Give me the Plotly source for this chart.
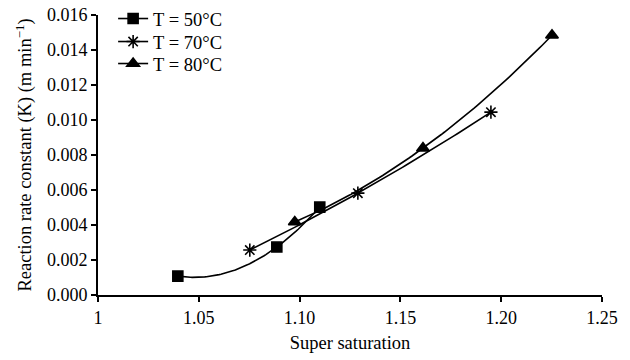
import numpy as np
import plotly.graph_objects as go

# Data
x_50 = [1.0396, 1.0887, 1.1100]
y_50 = [0.00108, 0.00274, 0.00502]
x_70 = [1.0753, 1.1289, 1.1949]
y_70 = [0.00257, 0.00582, 0.01045]
x_80 = [1.0976, 1.1612, 1.2252]
y_80 = [0.00417, 0.00839, 0.01484]

series = [
    ("T = 50°C", x_50, y_50, "square", 10, "legend"),
    ("T = 70°C", x_70, y_70, "asterisk-open", 11, "legend2"),
    ("T = 80°C", x_80, y_80, "triangle-up", 11, "legend3"),
]

x_ticks = [1, 1.05, 1.10, 1.15, 1.20, 1.25]
x_tick_text = ["1", "1.05", "1.10", "1.15", "1.20", "1.25"]
y_ticks = [0, 0.002, 0.004, 0.006, 0.008, 0.010, 0.012, 0.014, 0.016]
y_tick_text = ["0.000", "0.002", "0.004", "0.006", "0.008", "0.010", "0.012", "0.014", "0.016"]

FONT = "Liberation Serif"
LW = 1.6
fig = go.Figure()
for name, xs, ys, sym, ms, lg in series:
    coef = np.polyfit(xs, ys, 2)
    xf = np.linspace(min(xs), max(xs), 80)
    yf = np.polyval(coef, xf)
    marker = dict(symbol=sym, size=ms, color="black", line=dict(color="black", width=1.6))
    # fitted curve
    fig.add_trace(go.Scatter(x=xf, y=yf, mode="lines", line=dict(color="black", width=LW),
                             showlegend=False, hoverinfo="skip"))
    # data markers
    fig.add_trace(go.Scatter(x=xs, y=ys, mode="markers", marker=marker, showlegend=False))
    # legend entry (line + marker)
    fig.add_trace(go.Scatter(x=[None], y=[None], mode="lines+markers", name=name, legend=lg,
                             marker=marker, line=dict(color="black", width=LW)))

leg_common = dict(x=0.03, xanchor="left", yanchor="middle", bgcolor="rgba(0,0,0,0)",
                  font=dict(family=FONT, size=18.5), borderwidth=0)
# item centres in paper coordinates (plot area spans px 15..295)
leg_y = [(295 - 19) / 280, (295 - 42) / 280, (295 - 64) / 280]

fig.update_layout(
    width=630, height=360,
    margin=dict(l=98, r=28, t=15, b=65, autoexpand=False),
    paper_bgcolor="white", plot_bgcolor="white",
    font=dict(family=FONT, size=18, color="black"),
    showlegend=True,
    legend=dict(y=leg_y[0], **leg_common),
    legend2=dict(y=leg_y[1], **leg_common),
    legend3=dict(y=leg_y[2], **leg_common),
    xaxis=dict(range=[1, 1.25], tickvals=x_ticks, ticktext=x_tick_text, showgrid=False,
               zeroline=False, showline=True, linecolor="black", linewidth=2,
               ticks="outside", ticklen=5, tickwidth=1.5, tickcolor="black", automargin=False,
               tickfont=dict(family=FONT, size=18),
               title=dict(text="Super saturation", font=dict(family=FONT, size=18.5), standoff=9)),
    yaxis=dict(range=[0, 0.016], tickvals=y_ticks, ticktext=y_tick_text, showgrid=False,
               zeroline=False, showline=True, linecolor="black", linewidth=2,
               ticks="outside", ticklen=5, tickwidth=1.5, tickcolor="black", automargin=False,
               tickfont=dict(family=FONT, size=18),
               title=dict(text="Reaction rate constant (K) (m min<sup>−1</sup>)",
                          font=dict(family=FONT, size=18.5), standoff=10)),
)
fig.write_html("out.html")
